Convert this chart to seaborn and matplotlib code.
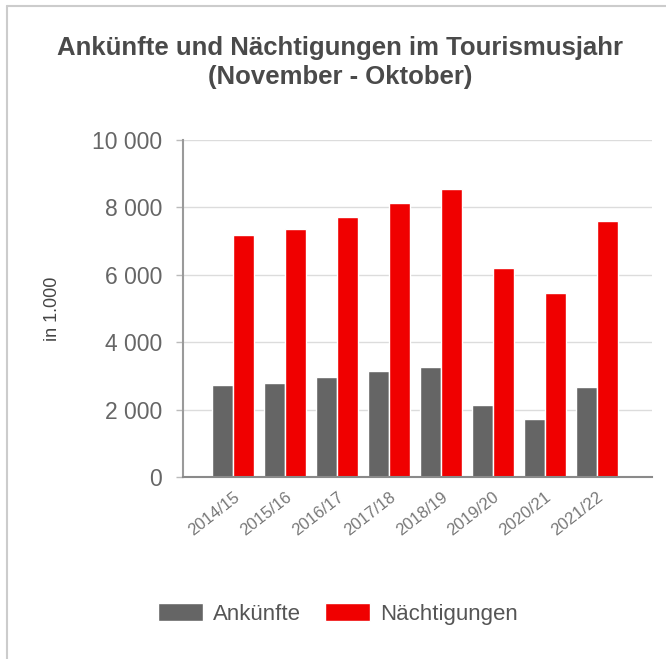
import matplotlib
matplotlib.use("Agg")
import matplotlib.pyplot as plt
from matplotlib.ticker import FuncFormatter
from matplotlib.lines import Line2D
import seaborn as sns
import pandas as pd

years = ["2014/15", "2015/16", "2016/17", "2017/18", "2018/19", "2019/20", "2020/21", "2021/22"]
ankuenfte = [2740, 2800, 2970, 3160, 3270, 2150, 1730, 2680]
naechtigungen = [7180, 7360, 7710, 8140, 8540, 6190, 5470, 7600]
series_names = ["Ankünfte", "Nächtigungen"]
title_lines = ["Ankünfte und Nächtigungen im Tourismusjahr", "(November - Oktober)"]
y_ticks = [0, 2000, 4000, 6000, 8000, 10000]

df = pd.DataFrame({
    "Jahr": years * 2,
    "Serie": [series_names[0]] * len(years) + [series_names[1]] * len(years),
    "Wert": ankuenfte + naechtigungen,
})

sns.set_theme(style="white")
plt.rcParams['font.family'] = ['Liberation Sans', 'DejaVu Sans']

W, H = 666, 659
fig = plt.figure(figsize=(W / 100, H / 100), dpi=100)
ax = fig.add_axes([183 / W, 1 - 477 / H, (652 - 183) / W, (477 - 140) / H])

palette = {series_names[0]: "#656565", series_names[1]: "#F00000"}
sns.barplot(data=df, x="Jahr", y="Wert", hue="Serie", palette=palette, width=0.81,
            saturation=1, ax=ax, legend=True)

ax.set_xlim(-0.96, 8.06)
ax.set_ylim(0, 10000)
ax.set_yticks(y_ticks)
ax.yaxis.set_major_formatter(FuncFormatter(lambda v, p: f"{v:,.0f}".replace(",", " ")))
ax.grid(axis="y", color="#dcdcdc", linewidth=1)
ax.set_axisbelow(True)

for s in ["top", "right"]:
    ax.spines[s].set_visible(False)
ax.spines["left"].set_color("#9a9a9a")
ax.spines["left"].set_linewidth(1.5)
ax.spines["bottom"].set_color("#8a8a8a")
ax.spines["bottom"].set_linewidth(1.5)

ax.tick_params(axis="y", which="both", left=True, length=5, width=1, color="#bbbbbb",
               labelsize=16.5, labelcolor="#666666", pad=10)
ax.tick_params(axis="x", bottom=False, labelsize=12, labelcolor="#777777", pad=3)
for lbl in ax.get_xticklabels():
    lbl.set_rotation(38)
    lbl.set_ha("right")
    lbl.set_rotation_mode("anchor")

ax.set_xlabel("")
ax.set_ylabel("in 1.000", fontsize=13, color="#444444")
ax.yaxis.set_label_coords((61 - 183) / 469, 0.5)

leg = ax.legend(loc="center", bbox_to_anchor=(338 / W, 1 - 614 / H),
                bbox_transform=fig.transFigure, ncol=2, frameon=False,
                fontsize=16, handlelength=2.0, handleheight=0.82,
                columnspacing=1.1, handletextpad=0.45)
for t in leg.get_texts():
    t.set_color("#555555")

fig.text(340 / W, 1 - 48 / H, title_lines[0], ha="center", va="center",
         fontsize=18.5, fontweight="bold", color="#4a4a4a")
fig.text(340 / W, 1 - 77 / H, title_lines[1], ha="center", va="center",
         fontsize=18.5, fontweight="bold", color="#4a4a4a")

# outer frame
fig.add_artist(Line2D([7 / W, 7 / W], [0, 1 - 6 / H], transform=fig.transFigure,
                      color="#cccccc", linewidth=1.5))
fig.add_artist(Line2D([7 / W, 1], [1 - 6 / H, 1 - 6 / H], transform=fig.transFigure,
                      color="#cccccc", linewidth=1.5))

fig.savefig("out.png", dpi=100)
